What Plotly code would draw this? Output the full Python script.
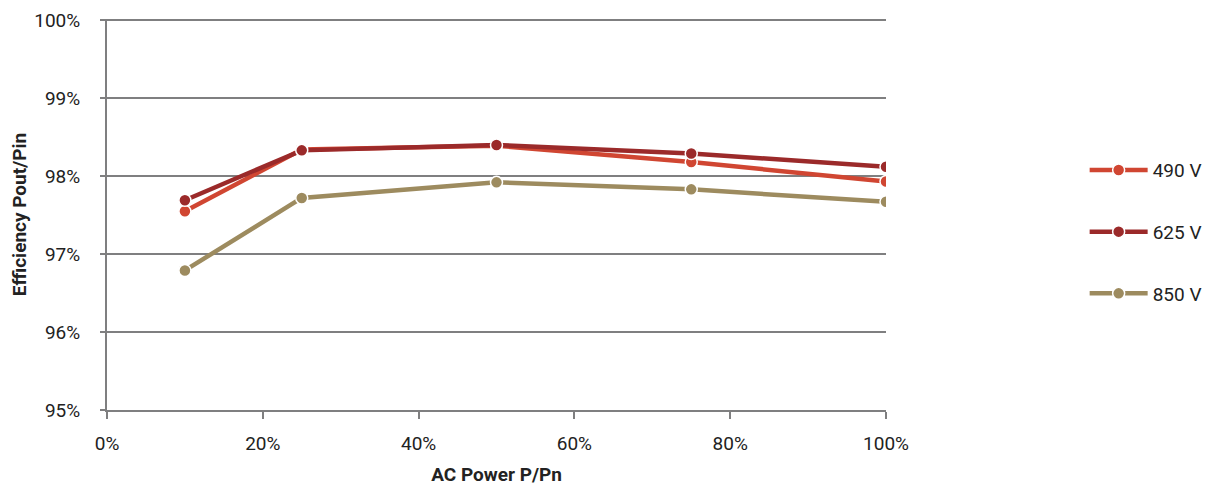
import plotly.graph_objects as go

power = [10, 25, 50, 75, 100]
eff_490 = [97.55, 98.34, 98.39, 98.18, 97.93]
eff_625 = [97.69, 98.33, 98.40, 98.29, 98.12]
eff_850 = [96.79, 97.72, 97.92, 97.83, 97.67]

x_ticks = [0, 20, 40, 60, 80, 100]
y_ticks = [95, 96, 97, 98, 99, 100]

series = [
    ("490 V", eff_490, "#d04632"),
    ("625 V", eff_625, "#9b2a2a"),
    ("850 V", eff_850, "#9d8b5f"),
]

GRID = "#7f7f80"
FONT = "Roboto, 'Liberation Sans Narrow', sans-serif"

fig = go.Figure()
for name, vals, color in series:
    fig.add_trace(
        go.Scatter(
            x=power,
            y=vals,
            mode="lines+markers",
            name=name,
            legendgroup=name,
            line=dict(color=color, width=4.5),
            marker=dict(color=color, size=12, line=dict(color="white", width=1.5)),
        )
    )

# page body adds an 8px offset, so margins are shifted to compensate
fig.update_layout(
    width=1217,
    height=489,
    plot_bgcolor="white",
    paper_bgcolor="white",
    margin=dict(l=99, r=339, t=11, b=87),
    font=dict(family=FONT, size=19, color="#222"),
    legend=dict(
        x=1.255, xanchor="left", y=0.455, yanchor="middle",
        tracegroupgap=34, itemwidth=58, font=dict(size=19),
    ),
)
fig.update_xaxes(
    range=[0, 100],
    tickvals=x_ticks,
    ticktext=[f"{t}%" for t in x_ticks],
    showgrid=False,
    showline=True, linecolor=GRID, linewidth=2,
    ticks="outside", ticklen=7, tickwidth=2, tickcolor=GRID,
    ticklabelstandoff=8,
    zeroline=False, automargin=False,
    title=dict(text="<b>AC Power P/Pn</b>", font=dict(size=19), standoff=14),
)
fig.update_yaxes(
    range=[95, 100.015],
    tickvals=y_ticks,
    ticktext=[f"{t}%" for t in y_ticks],
    showgrid=True, gridcolor=GRID, gridwidth=2,
    showline=True, linecolor=GRID, linewidth=2,
    ticks="outside", ticklen=5, tickwidth=2, tickcolor=GRID,
    ticklabelstandoff=16,
    zeroline=False, automargin=False,
    title=dict(text="<b>Efficiency Pout/Pin</b>", font=dict(size=19), standoff=3),
)

fig.write_html("out.html")
